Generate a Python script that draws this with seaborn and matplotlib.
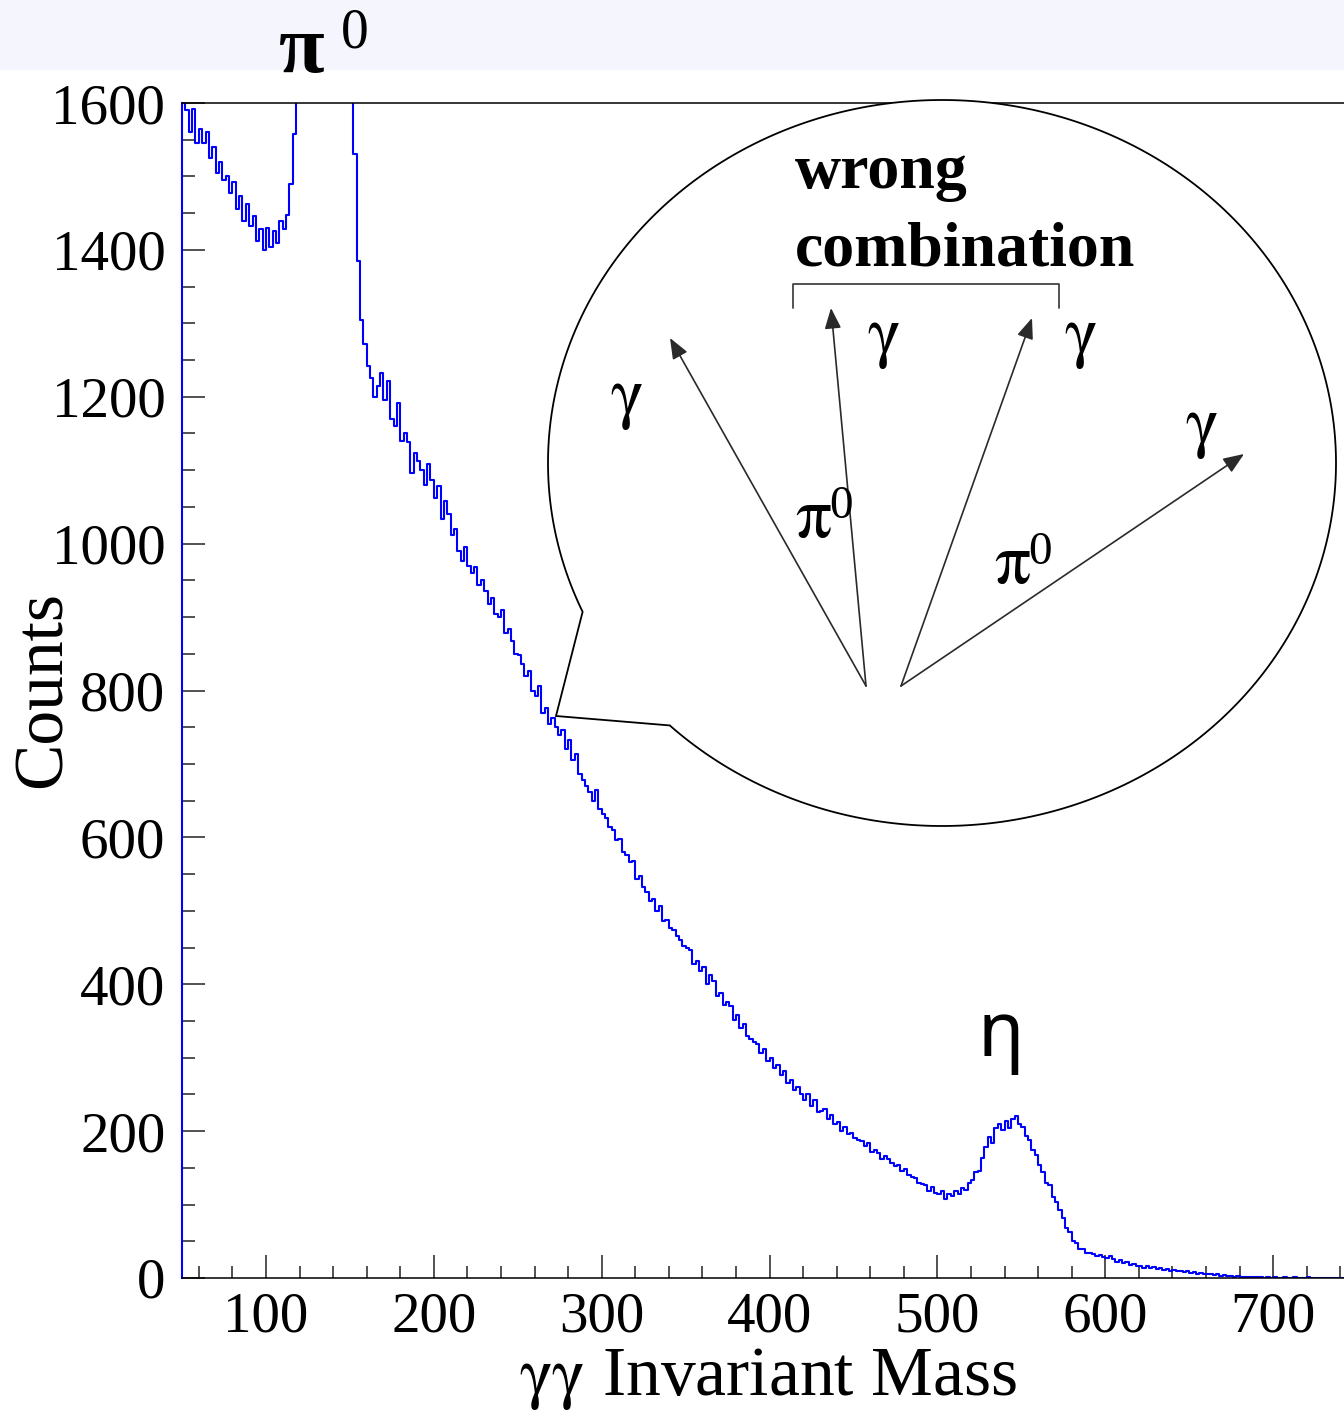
import numpy as np
import pandas as pd
import seaborn as sns
import matplotlib.pyplot as plt
from matplotlib.patches import PathPatch, Rectangle, FancyArrowPatch
from matplotlib.path import Path
from matplotlib.lines import Line2D
from matplotlib.ticker import MultipleLocator

W, H = 1344, 1413

# Histogram binning (MeV)
bin_width = 2
mass_start, mass_stop = 50, 750

# Counts per 2 MeV bin
counts_50_148 = [
    1600, 1590, 1560, 1592, 1545, 1565, 1545, 1560, 1525, 1540,
    1505, 1520, 1495, 1500, 1478, 1492, 1455, 1474, 1440, 1462,
    1432, 1446, 1412, 1428, 1400, 1430, 1404, 1426, 1410, 1440,
    1428, 1448, 1490, 1558, 1760, 2150, 2800, 3600, 4600, 5700,
    6700, 7400, 7700, 7500, 6800, 5700, 4500, 3400, 2600, 2050,
]
counts_150_348 = [
    1720, 1530, 1385, 1304, 1272, 1242, 1225, 1200, 1214, 1232,
    1196, 1222, 1170, 1160, 1192, 1140, 1150, 1138, 1096, 1124,
    1112, 1100, 1080, 1108, 1086, 1062, 1078, 1034, 1058, 1040,
    1012, 1020, 990, 976, 996, 970, 960, 968, 944, 950,
    936, 918, 926, 904, 900, 910, 878, 884, 868, 850,
    848, 836, 820, 826, 800, 792, 806, 770, 776, 754,
    762, 750, 740, 746, 720, 732, 706, 714, 686, 678,
    670, 662, 650, 664, 638, 632, 626, 614, 610, 596,
    598, 580, 576, 566, 568, 544, 548, 532, 526, 514,
    516, 500, 506, 486, 488, 476, 474, 466, 460, 452,
]
counts_350_548 = [
    450, 446, 428, 432, 418, 424, 400, 412, 404, 384,
    388, 372, 376, 370, 352, 358, 340, 346, 330, 326,
    322, 318, 306, 312, 296, 300, 286, 290, 276, 282,
    266, 270, 256, 260, 250, 242, 250, 234, 242, 226,
    228, 230, 216, 222, 210, 212, 200, 206, 196, 198,
    190, 188, 186, 180, 184, 172, 174, 170, 162, 166,
    162, 156, 152, 154, 146, 148, 140, 138, 136, 130,
    128, 126, 118, 124, 116, 114, 118, 108, 114, 112,
    118, 114, 122, 120, 130, 134, 144, 146, 164, 178,
    192, 184, 204, 210, 202, 214, 204, 216, 220, 210,
]
counts_550_748 = [
    206, 194, 188, 174, 168, 154, 144, 130, 126, 110,
    104, 92, 82, 68, 62, 50, 48, 40, 40, 34,
    34, 33, 30, 32, 28, 27, 30, 26, 22, 24,
    20, 22, 18, 19, 16, 17, 14, 16, 13, 15,
    12, 14, 11, 12, 10, 11, 9, 10, 8, 9,
    7, 8, 6, 7, 5, 6, 5, 4, 5, 3,
    4, 3, 3, 2, 3, 2, 2, 1, 2, 1,
    1, 2, 0, 1, 0, 1, 0, 0, 1, 0,
    0, 1, 0, 0, 0, 1, 0, 0, 0, 0,
    0, 0, 0, 0, 0, 0, 0, 0, 0, 0,
]

x_ticks = [100, 200, 300, 400, 500, 600, 700]
y_ticks = [0, 200, 400, 600, 800, 1000, 1200, 1400, 1600]

counts = np.concatenate([counts_50_148, counts_150_348, counts_350_548, counts_550_748])
centers = mass_start + bin_width / 2 + bin_width * np.arange(len(counts))
df = pd.DataFrame({"mass": centers, "counts": counts})

sns.set_theme(style="ticks")
plt.rcParams["font.family"] = ["Liberation Serif", "DejaVu Serif"]
plt.rcParams["mathtext.fontset"] = "stix"
plt.rcParams["text.color"] = "black"
plt.rcParams["axes.labelcolor"] = "black"
plt.rcParams["xtick.color"] = "black"
plt.rcParams["ytick.color"] = "black"


def fx(px):
    return px / W


def fy(py):
    return 1 - py / H


fig = plt.figure(figsize=(W / 100, H / 100), dpi=100)
fig.patch.set_facecolor("white")

# pale header band
fig.add_artist(Rectangle((0, fy(70)), 1, 70 / H, transform=fig.transFigure,
                         facecolor="#f4f5fd", edgecolor="none", zorder=0))

ax = fig.add_axes([fx(182), fy(1278), (W - 182) / W, (1278 - 103) / H])

sns.histplot(data=df, x="mass", weights="counts", binwidth=bin_width,
             binrange=(mass_start, mass_stop), element="step",
             fill=False, color="#0000ff", linewidth=1.5, ax=ax)

ax.set_xlim(50, 742.2)
ax.set_ylim(0, 1600)
ax.set_xticks(x_ticks)
ax.set_yticks(y_ticks)
ax.xaxis.set_minor_locator(MultipleLocator(20))
ax.yaxis.set_minor_locator(MultipleLocator(50))
ax.tick_params(which="major", direction="in", length=16.5, width=1.1,
               color="#222222", labelsize=41, labelcolor="black")
ax.tick_params(which="minor", direction="in", length=9, width=1.1, color="#222222")
ax.tick_params(axis="y", which="major", pad=12)
ax.tick_params(axis="x", which="major", pad=10)
ax.set_xlabel("")
ax.set_ylabel("")
ax.spines["right"].set_visible(False)
ax.spines["left"].set_color("#0000ff")
ax.spines["left"].set_linewidth(1.5)
for s in ("top", "bottom"):
    ax.spines[s].set_color("black")
    ax.spines[s].set_linewidth(1.1)

# axis titles
fig.text(fx(44), fy(690), "Counts", rotation=90, ha="center", va="center", fontsize=50)
fig.text(fx(768), fy(1395), r"$\mathrm{\gamma\gamma}$ Invariant Mass", ha="center",
         va="baseline", fontsize=50)

# peak labels
fig.text(fx(279), fy(72), "π", ha="left", va="baseline", fontsize=60, fontweight="bold")
fig.text(fx(341), fy(48), "0", ha="left", va="baseline", fontsize=40)
fig.text(fx(1001), fy(1057), "η", ha="center", va="baseline", fontsize=55,
         family=["Noto Sans", "DejaVu Sans"])

# speech bubble
cx, cy, rx, ry = 942, 463, 394, 363
theta = np.radians(np.linspace(155.8, 493.7, 400))
bx = cx + rx * np.cos(theta)
by = cy + ry * np.sin(theta)
bx = np.append(bx, [556, bx[0]])
by = np.append(by, [716, by[0]])
verts = np.column_stack([fx(bx), fy(by)])
codes = [Path.MOVETO] + [Path.LINETO] * (len(verts) - 2) + [Path.CLOSEPOLY]
fig.add_artist(PathPatch(Path(verts, codes), transform=fig.transFigure,
                         facecolor="white", edgecolor="black", lw=1.3, zorder=2))

# decay arrows
arrow_color = "#2a2a2a"
for (x0, y0), (x1, y1) in [((866, 686), (670, 338)), ((866, 686), (831, 308)),
                           ((901, 686), (1032, 318)), ((901, 686), (1244, 454))]:
    fig.add_artist(FancyArrowPatch((fx(x0), fy(y0)), (fx(x1), fy(y1)),
                                   transform=fig.transFigure,
                                   arrowstyle="-|>,head_length=0.7,head_width=0.28",
                                   mutation_scale=18, color=arrow_color, lw=1.2,
                                   shrinkA=0, shrinkB=0, zorder=4))

# bracket over the mismatched photon pair
fig.add_artist(Line2D([fx(793), fx(793), fx(1059), fx(1059)],
                      [fy(308), fy(284), fy(284), fy(308)],
                      transform=fig.transFigure, color="#444444", lw=1.3, zorder=4))

fig.text(fx(795), fy(188), "wrong", ha="left", va="baseline", fontsize=46,
         fontweight="bold", zorder=5)
fig.text(fx(795), fy(265), "combination", ha="left", va="baseline", fontsize=46,
         fontweight="bold", zorder=5)

for gx, gy in [(626, 415), (883, 354), (1080, 354), (1201, 444)]:
    fig.text(fx(gx), fy(gy), r"$\mathrm{\gamma}$", ha="center", va="baseline",
             fontsize=50, zorder=5)

for px, py in [(795, 537), (994, 583)]:
    fig.text(fx(px), fy(py), r"$\mathrm{\pi}$", ha="left", va="baseline", fontsize=52, zorder=5)
    fig.text(fx(px + 34), fy(py - 19), "0", ha="left", va="baseline", fontsize=34, zorder=5)

fig.savefig("out.png", dpi=100)
